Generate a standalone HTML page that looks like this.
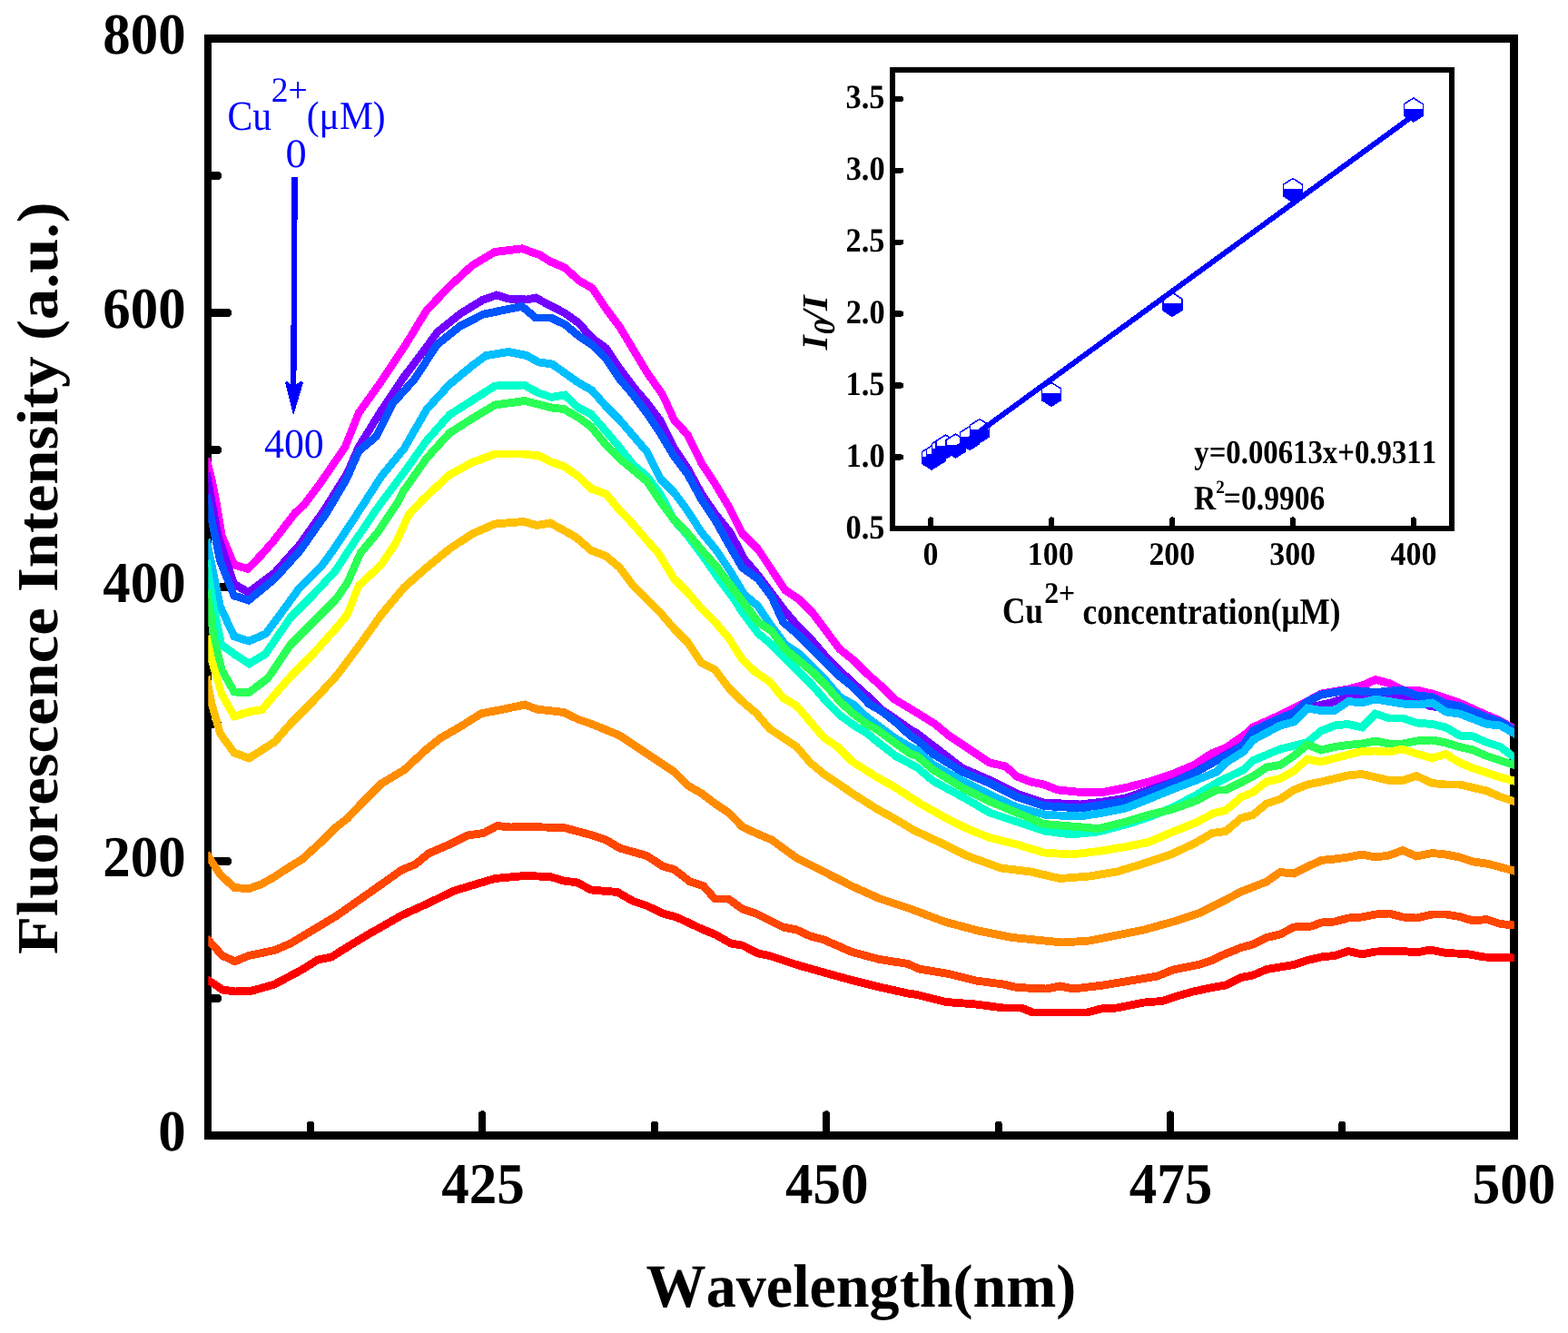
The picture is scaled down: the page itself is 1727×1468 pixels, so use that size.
<!DOCTYPE html>
<html lang="en"><head><meta charset="utf-8"><title>Fluorescence spectra</title>
<style>html,body{margin:0;padding:0;background:#fff;}svg{display:block;}text{font-family:"Liberation Serif","DejaVu Serif",serif;font-kerning:none;}</style>
</head><body>
<svg width="1727" height="1468" viewBox="0 0 1727 1468" shape-rendering="crispEdges" text-rendering="geometricPrecision">
<rect x="0" y="0" width="1727" height="1468" fill="#fff"/>
<defs><clipPath id="cp"><rect x="229.3" y="46" width="1438.6" height="1201"/></clipPath></defs>
<g stroke="#000" fill="none" stroke-linecap="round">
<line x1="229.05" y1="948.5" x2="250.6" y2="948.5" stroke-width="9"/>
<line x1="229.05" y1="646.5" x2="250.6" y2="646.5" stroke-width="9"/>
<line x1="229.05" y1="344.5" x2="250.6" y2="344.5" stroke-width="9"/>
<line x1="229.05" y1="1099.5" x2="239.7" y2="1099.5" stroke-width="9"/>
<line x1="229.05" y1="797.5" x2="239.7" y2="797.5" stroke-width="9"/>
<line x1="229.05" y1="495.5" x2="239.7" y2="495.5" stroke-width="9"/>
<line x1="229.05" y1="193.5" x2="239.7" y2="193.5" stroke-width="9"/>
<line x1="531.3" y1="1250.5" x2="531.3" y2="1227.4" stroke-width="8.2"/>
<line x1="910.3" y1="1250.5" x2="910.3" y2="1227.4" stroke-width="8.2"/>
<line x1="1289.0" y1="1250.5" x2="1289.0" y2="1227.4" stroke-width="8.2"/>
<line x1="342" y1="1250.5" x2="342" y2="1238.6" stroke-width="8.2"/>
<line x1="720.9" y1="1250.5" x2="720.9" y2="1238.6" stroke-width="8.2"/>
<line x1="1099.6" y1="1250.5" x2="1099.6" y2="1238.6" stroke-width="8.2"/>
<line x1="1478.3" y1="1250.5" x2="1478.3" y2="1238.6" stroke-width="8.2"/>
</g>
<g fill="#000">
<rect x="225.1" y="37.9" width="7.9" height="1217.1"/>
<rect x="1663.2" y="37.9" width="8.7" height="1217.1"/>
<rect x="225.1" y="37.9" width="1446.8000000000002" height="9"/>
<rect x="225.1" y="1246" width="1446.8000000000002" height="9"/>
</g>
<g clip-path="url(#cp)"><g transform="scale(1 1.05)" fill="none" stroke-width="8.45" stroke-linejoin="miter" stroke-miterlimit="4" stroke-linecap="butt">
<polyline stroke="#FF00FF" points="227.4,480.95 233.4,503.81 238.3,527.14 244.4,561.90 257.9,592.38 273.0,596.67 288.0,581.90 300.8,568.00 325.0,538.10 335.0,529.52 352.5,507.14 380.0,469.05 395.0,433.33 420.0,400.00 445.0,364.29 470.0,325.24 495.0,300.48 520.0,278.48 545.0,264.29 575.0,260.76 595.0,267.62 605.0,273.81 622.5,280.95 637.5,294.29 652.5,302.38 667.5,323.81 682.5,342.86 697.5,366.67 712.5,390.48 730.0,414.29 742.5,440.48 757.5,456.19 772.5,485.71 787.5,507.14 802.5,530.95 817.5,559.52 835.0,576.19 850.0,597.62 865.0,619.05 880.0,628.57 895.0,642.86 910.0,661.90 925.0,680.95 940.0,692.38 955.0,706.67 970.0,719.05 985.0,733.33 1010.0,747.62 1030.0,759.52 1045.0,771.43 1060.0,780.95 1075.0,790.48 1090.0,800.00 1107.5,803.81 1120.0,814.29 1135.0,820.00 1150.0,822.86 1165.0,828.57 1190.0,830.95 1215.0,830.95 1240.0,826.19 1265.0,820.00 1290.0,812.38 1315.0,802.38 1335.0,790.00 1350.0,784.29 1370.0,771.43 1380.0,762.86 1410.0,750.00 1440.0,735.71 1455.0,727.62 1485.0,722.86 1500.0,719.05 1515.0,712.86 1530.0,716.67 1545.0,723.81 1560.0,723.81 1577.5,727.62 1607.5,737.14 1637.5,750.00 1652.5,756.19 1667.5,764.29 1677.0,769.43"/>
<polyline stroke="#7300FF" points="227.4,496.19 240.1,561.90 257.7,612.38 273.8,621.43 302.5,600.76 330.0,571.43 355.0,538.10 382.0,497.14 395.0,469.05 420.0,430.48 445.0,395.24 470.0,363.62 482.0,348.10 507.0,329.05 532.0,314.38 547.0,309.52 560.0,313.33 580.0,314.29 590.0,312.38 605.0,320.00 622.5,328.57 637.5,338.95 652.5,354.86 667.5,365.24 682.5,386.67 697.5,405.71 712.5,422.38 727.5,441.43 742.5,470.00 757.5,491.43 772.5,517.62 787.5,538.57 805.0,559.52 820.0,586.67 835.0,603.33 850.0,622.38 865.0,641.43 880.0,658.10 895.0,672.38 910.0,689.05 925.0,703.33 940.0,716.67 955.0,729.52 970.0,743.81 985.0,753.33 1002.5,765.05 1010.0,769.14 1027.5,782.00 1060.0,805.71 1090.0,818.10 1120.0,832.38 1150.0,841.90 1190.0,843.81 1215.0,840.95 1240.0,837.14 1265.0,828.57 1290.0,820.95 1315.0,810.48 1340.0,797.14 1370.0,780.95 1380.0,769.52 1410.0,757.14 1440.0,742.86 1465.0,737.14 1485.0,731.43 1500.0,728.57 1515.0,729.52 1545.0,729.52 1560.0,733.33 1575.0,740.48 1607.5,744.76 1637.5,754.29 1667.5,766.67 1677.0,770.57"/>
<polyline stroke="#0055FF" points="227.4,519.05 242.5,588.57 257.7,624.76 273.8,629.52 302.5,607.05 330.0,578.10 360.0,537.52 382.0,501.90 395.0,473.33 415.0,457.14 432.0,423.81 457.0,397.14 470.0,378.10 482.0,360.95 507.0,341.90 532.0,329.81 557.0,324.76 575.0,321.43 590.0,333.33 607.0,333.33 622.5,340.48 637.5,352.38 652.5,361.90 667.5,376.19 682.5,397.62 697.5,414.29 712.5,433.33 727.5,454.76 742.5,478.57 757.5,497.62 772.5,523.81 787.5,545.24 803.5,572.38 817.5,595.24 835.0,607.14 850.0,626.19 862.5,652.38 880.0,666.67 895.0,680.95 910.0,695.24 925.0,709.52 940.0,720.95 957.0,738.10 970.0,745.24 985.0,756.19 1002.5,771.43 1010.0,776.19 1027.5,790.48 1060.0,809.52 1090.0,821.43 1120.0,835.71 1150.0,845.24 1190.0,847.62 1215.0,843.81 1240.0,840.48 1265.0,830.95 1292.0,820.95 1318.0,809.52 1340.0,797.62 1350.0,792.86 1370.0,780.95 1380.0,766.67 1410.0,753.33 1425.0,747.62 1440.0,735.71 1455.0,728.57 1485.0,723.81 1515.0,726.19 1545.0,723.81 1560.0,729.52 1577.5,730.95 1592.5,738.10 1607.5,740.48 1637.5,752.38 1652.5,757.14 1667.5,765.71 1677.0,771.14"/>
<polyline stroke="#00BFFF" points="227.4,565.71 236.8,609.52 242.6,636.19 257.9,667.62 274.4,672.38 292.5,664.86 302.5,652.38 330.0,616.38 355.0,592.76 370.0,572.86 395.0,536.67 420.0,499.62 445.0,470.57 470.0,429.24 495.0,403.33 520.0,383.62 535.0,373.05 560.0,369.05 580.0,372.86 593.5,380.00 608.0,381.90 622.5,391.43 635.0,400.00 652.0,409.52 667.5,426.19 682.5,440.48 697.5,457.14 712.5,473.81 727.5,502.38 742.5,516.67 757.0,535.24 772.5,558.10 789.0,577.14 805.0,600.00 820.0,623.81 835.0,635.71 850.0,657.14 865.0,676.19 880.0,685.71 895.0,700.00 910.0,714.29 925.0,730.95 940.0,739.05 955.0,752.38 967.0,760.95 985.0,773.81 1002.5,783.81 1010.0,786.67 1027.5,801.90 1060.0,819.05 1090.0,833.33 1120.0,846.67 1152.5,854.76 1190.0,856.19 1215.0,852.38 1240.0,847.62 1265.0,838.10 1292.0,827.62 1318.0,818.10 1340.0,809.52 1350.0,800.00 1370.0,788.10 1380.0,776.19 1410.0,760.95 1425.0,757.14 1440.0,742.86 1455.0,745.24 1470.0,745.24 1485.0,735.71 1500.0,737.14 1515.0,733.33 1530.0,735.71 1545.0,738.10 1562.5,739.05 1577.5,737.14 1592.5,746.67 1607.5,748.57 1637.5,759.52 1652.5,760.95 1667.5,769.05 1677.0,774.19"/>
<polyline stroke="#00FFCC" points="227.4,587.62 230.9,609.52 234.6,632.86 243.8,676.19 259.1,686.67 274.4,696.19 292.5,685.71 320.0,647.62 345.0,623.81 370.0,598.10 383.5,578.00 417.0,531.05 445.0,495.52 470.0,462.00 495.0,435.24 520.0,420.00 545.0,404.76 577.0,403.81 592.5,411.90 607.5,416.67 622.0,414.29 636.0,427.14 651.0,434.29 667.5,452.38 682.5,469.33 697.5,487.62 712.5,499.52 727.5,518.29 742.5,545.71 757.5,561.90 771.0,579.05 790.0,604.76 805.0,623.81 820.0,645.24 835.0,664.29 850.0,676.19 865.0,690.48 880.0,704.76 895.0,719.05 910.0,735.71 925.0,750.00 940.0,760.48 955.0,769.05 967.0,778.57 987.0,793.33 1010.0,804.76 1027.5,819.05 1060.0,835.71 1090.0,852.38 1120.0,861.90 1150.0,871.43 1180.0,875.24 1210.0,872.38 1240.0,864.76 1265.0,857.14 1290.0,847.62 1315.0,835.24 1342.0,820.00 1370.0,807.14 1380.0,797.62 1410.0,785.71 1440.0,778.57 1455.0,766.67 1470.0,760.95 1485.0,759.52 1500.0,762.86 1515.0,748.57 1530.0,753.33 1545.0,753.33 1560.0,758.10 1577.5,759.52 1592.5,762.86 1607.5,771.43 1622.5,772.38 1637.5,778.57 1652.5,783.33 1667.5,794.29 1677.0,801.24"/>
<polyline stroke="#2AFF55" points="227.4,619.05 232.2,644.76 235.2,667.62 244.4,702.86 257.9,725.71 274.4,726.29 295.0,711.43 320.0,676.19 345.0,652.38 370.0,628.57 382.5,611.43 397.0,580.00 417.0,557.14 437.0,528.57 445.0,514.29 470.0,480.48 495.0,454.29 520.0,439.05 545.0,424.76 578.0,420.48 594.0,424.29 607.5,427.62 621.0,429.05 637.5,438.10 651.0,447.62 667.5,466.67 682.5,480.95 697.5,492.86 712.5,504.76 727.5,526.19 742.5,545.24 757.5,559.52 773.5,577.62 790.0,595.24 805.0,614.29 820.0,633.33 835.0,652.38 850.0,661.90 865.0,680.95 880.0,692.86 895.0,704.76 910.0,719.05 925.0,735.71 940.0,748.57 955.0,759.52 967.0,765.71 985.0,778.57 1002.5,790.48 1010.0,792.86 1027.5,807.14 1060.0,826.19 1090.0,840.48 1120.0,852.38 1150.0,864.29 1180.0,866.67 1210.0,869.05 1240.0,861.90 1265.0,854.76 1292.0,848.57 1317.0,840.00 1340.0,828.57 1350.0,828.57 1370.0,819.05 1380.0,814.29 1395.0,804.76 1410.0,802.38 1425.0,792.86 1440.0,780.95 1455.0,786.67 1470.0,783.33 1485.0,781.43 1500.0,780.00 1515.0,777.14 1530.0,780.00 1545.0,780.00 1560.0,777.14 1577.5,776.19 1592.5,779.05 1607.5,783.33 1622.5,786.67 1637.5,792.86 1652.5,797.62 1667.5,802.38 1677.0,805.43"/>
<polyline stroke="#FFFF00" points="227.4,666.67 232.8,691.43 244.4,728.57 257.9,751.43 274.4,746.67 288.5,744.38 302.5,728.57 320.0,709.52 345.0,685.71 370.0,659.05 382.5,644.76 395.0,614.29 420.0,592.38 437.0,567.62 450.0,540.00 466.0,523.81 495.0,498.10 520.0,485.14 545.0,476.19 577.0,476.19 594.0,478.10 607.5,484.76 621.0,489.05 637.5,500.00 651.0,512.38 667.5,518.10 682.5,535.24 697.5,550.00 712.5,566.67 725.0,580.00 742.5,607.14 757.5,621.43 772.5,638.10 787.5,652.38 802.5,669.05 817.5,691.52 832.5,705.24 847.5,714.76 862.5,732.00 877.5,740.48 892.5,757.14 907.5,773.81 922.5,783.33 938.5,798.57 952.5,807.14 966.0,815.24 982.5,823.81 1012.0,841.90 1040.0,857.14 1065.0,869.05 1090.0,878.57 1120.0,885.71 1150.0,894.29 1180.0,896.19 1210.0,892.86 1240.0,888.10 1265.0,883.33 1292.0,872.38 1317.0,862.86 1337.0,852.86 1350.0,850.00 1367.0,836.19 1380.0,830.95 1395.0,820.00 1410.0,816.67 1425.0,808.57 1440.0,796.19 1455.0,799.05 1470.0,795.24 1485.0,791.43 1500.0,788.10 1515.0,787.62 1530.0,788.57 1545.0,785.71 1560.0,790.48 1577.5,795.24 1592.5,790.95 1607.5,800.00 1622.5,805.71 1637.5,810.48 1652.5,815.24 1667.5,819.05 1677.0,821.43"/>
<polyline stroke="#FFC000" points="227.4,709.52 233.1,738.10 242.6,769.52 257.9,789.52 274.4,795.24 302.5,778.10 320.0,759.05 345.0,735.24 370.0,709.52 395.0,678.10 420.0,644.76 445.0,616.19 470.0,595.24 495.0,575.71 520.0,560.00 545.0,549.52 577.0,547.14 591.0,550.95 606.0,548.57 622.5,557.14 634.0,563.33 651.0,577.14 667.5,583.33 682.5,595.24 697.5,614.29 712.5,628.57 727.5,642.86 742.5,659.52 757.5,673.81 772.5,695.24 787.5,702.38 802.5,721.43 817.5,735.71 832.5,747.62 847.5,764.29 862.5,773.81 877.5,783.33 892.5,800.00 907.5,811.90 922.5,821.43 938.5,831.90 952.5,840.48 966.0,848.57 982.5,857.14 1006.0,870.48 1040.0,885.71 1065.0,897.62 1102.5,910.48 1135.0,914.29 1167.5,921.43 1200.0,919.05 1230.0,914.29 1255.0,907.14 1290.0,896.19 1317.0,883.81 1335.0,873.81 1350.0,871.90 1367.0,858.10 1380.0,854.76 1395.0,842.86 1410.0,838.10 1425.0,828.57 1440.0,822.86 1455.0,820.00 1470.0,816.67 1485.0,813.33 1500.0,811.90 1515.0,815.24 1530.0,818.57 1545.0,818.57 1560.0,813.81 1577.5,821.43 1592.5,822.86 1607.5,822.86 1622.5,826.19 1637.5,829.52 1652.5,835.71 1667.5,840.48 1677.0,843.52"/>
<polyline stroke="#FF8C00" points="227.4,895.24 242.6,917.14 257.9,930.95 273.8,932.19 287.5,927.62 302.5,919.52 320.0,908.57 332.5,901.43 353.0,883.81 370.0,867.62 382.5,858.57 397.0,843.81 420.0,821.90 445.0,807.62 470.0,785.71 485.0,774.29 507.5,761.90 530.0,748.38 555.0,743.81 578.0,739.05 591.0,743.81 621.0,747.14 637.5,754.76 651.0,759.05 682.5,771.43 697.5,780.95 712.5,790.48 727.5,800.00 742.5,809.52 757.5,823.81 773.0,832.38 787.5,842.86 802.5,852.38 817.5,867.14 832.5,873.81 850.0,880.95 877.5,900.00 907.5,914.29 938.5,929.52 968.5,942.38 985.0,947.62 1006.0,954.29 1040.0,966.67 1077.5,976.19 1115.0,983.33 1140.0,985.71 1170.0,988.57 1200.0,986.67 1230.0,980.95 1260.0,975.24 1292.0,966.67 1320.0,958.10 1347.0,945.24 1367.0,935.24 1395.0,924.76 1410.0,914.76 1425.0,916.19 1440.0,909.05 1455.0,902.38 1470.0,900.95 1485.0,899.05 1500.0,896.19 1515.0,899.05 1530.0,897.14 1545.0,891.90 1560.0,898.10 1577.5,894.76 1592.5,896.19 1607.5,899.05 1622.5,903.81 1637.5,905.71 1652.5,909.52 1667.5,913.33 1677.0,915.71"/>
<polyline stroke="#FF4500" points="227.4,983.81 245.0,1002.38 258.8,1008.38 273.8,1002.38 302.5,996.67 320.0,989.52 345.0,975.24 370.0,960.95 395.0,944.29 420.0,927.62 442.5,912.38 457.5,906.48 472.5,894.86 495.0,885.71 515.0,876.19 532.5,873.81 547.5,866.19 562.5,867.62 578.0,867.14 621.0,868.10 651.0,875.71 667.5,880.95 682.5,889.52 712.5,897.62 730.0,908.57 742.5,911.90 760.0,924.76 775.0,929.52 787.5,942.86 802.5,942.86 817.5,953.33 832.5,958.10 862.5,972.38 877.5,975.24 892.5,981.90 907.5,985.71 938.5,998.57 968.5,1006.19 1000.0,1010.95 1012.0,1016.19 1045.0,1021.43 1075.0,1028.57 1105.0,1032.38 1120.0,1035.71 1152.5,1037.14 1167.5,1034.29 1182.5,1037.14 1215.0,1033.33 1245.0,1028.57 1275.0,1023.81 1292.0,1017.14 1320.0,1011.90 1335.0,1007.14 1345.0,1002.38 1367.0,993.81 1380.0,990.48 1395.0,983.33 1410.0,980.00 1425.0,972.38 1445.0,971.43 1455.0,967.62 1470.0,966.67 1485.0,962.86 1500.0,961.90 1515.0,959.05 1530.0,958.10 1545.0,961.90 1560.0,962.86 1577.5,959.05 1592.5,959.05 1607.5,961.43 1622.5,965.71 1637.5,964.29 1652.5,969.05 1667.5,970.48 1677.0,971.43"/>
<polyline stroke="#FF0000" points="227.4,1026.67 245.0,1038.10 258.8,1040.00 277.5,1039.14 302.5,1032.38 332.5,1017.14 350.0,1006.67 365.0,1003.81 382.5,993.33 407.5,979.05 442.5,960.00 470.0,948.10 500.0,934.29 545.0,921.43 578.0,918.57 606.0,919.52 621.0,923.81 636.0,925.71 651.0,933.33 680.0,935.71 697.5,945.24 712.5,950.00 730.0,958.10 745.0,961.90 775.0,975.24 787.5,980.00 805.0,989.52 817.5,991.43 835.0,1000.00 847.5,1002.38 877.5,1011.90 907.5,1020.00 938.5,1028.10 968.5,1035.24 1000.0,1041.90 1010.0,1043.33 1042.0,1050.95 1075.0,1053.33 1105.0,1057.14 1125.0,1057.14 1137.5,1061.90 1197.5,1061.90 1212.5,1058.10 1230.0,1057.14 1260.0,1051.43 1280.0,1050.00 1295.0,1045.24 1312.0,1040.48 1335.0,1035.71 1350.0,1033.33 1367.0,1025.24 1380.0,1022.86 1395.0,1016.67 1410.0,1014.29 1425.0,1011.90 1440.0,1007.14 1455.0,1003.81 1470.0,1002.38 1485.0,997.62 1500.0,1000.95 1515.0,998.10 1545.0,997.62 1560.0,999.05 1575.0,996.19 1592.5,999.52 1615.0,1000.48 1635.0,1003.81 1667.5,1004.76 1677.0,1005.05"/>
</g></g>
<g fill="#000">
<text font-weight="bold" font-size="63.85" transform="translate(113.35 59.30) scale(0.9520 1)">800</text>
<text font-weight="bold" font-size="63.85" transform="translate(113.35 361.26) scale(0.9520 1)">600</text>
<text font-weight="bold" font-size="63.85" transform="translate(113.35 663.20) scale(0.9520 1)">400</text>
<text font-weight="bold" font-size="63.85" transform="translate(113.35 965.20) scale(0.9520 1)">200</text>
<text font-weight="bold" font-size="63.85" transform="translate(174.14 1267.10) scale(0.9520 1)">0</text>
<text font-weight="bold" font-size="63.70" transform="translate(486.34 1325.40) scale(0.9580 1)">425</text>
<text font-weight="bold" font-size="63.70" transform="translate(865.09 1325.40) scale(0.9580 1)">450</text>
<text font-weight="bold" font-size="63.70" transform="translate(1243.74 1325.40) scale(0.9580 1)">475</text>
<text font-weight="bold" font-size="63.70" transform="translate(1621.73 1325.40) scale(0.9580 1)">500</text>
<text font-weight="bold" font-size="67.43" transform="translate(711.61 1438.57) scale(0.9804 1)">Wavelength(nm)</text>
<text font-weight="bold" font-size="64.07" transform="translate(62.83 1050.93) rotate(-90) scale(1.0730 1)">Fluorescence Intensity (a.u.)</text>
</g>
<g fill="#0000FF">
<text font-size="46.12" transform="translate(250.53 142.74) scale(0.9044 1)">Cu</text>
<text font-size="38.94" transform="translate(298.81 111.90) scale(0.9663 1)">2+</text>
<text font-size="43.87" transform="translate(337.73 142.17) scale(0.9482 1)">(μM)</text>
<text font-size="44.89" transform="translate(314.54 184.15) scale(1.0343 1)">0</text>
<text font-size="45.78" transform="translate(291.02 504.44) scale(0.9572 1)">400</text>
<path d="M321.5,194.5 L327.8,194.5 L326.4,428 L320.1,428 Z"/>
<path d="M314.1,421.3 L316.3,419.8 L320.2,423.2 L326.1,423.2 L331.6,419.8 L334,421.3 L323.6,456.2 L322.7,456.2 Z"/>
</g>
<g stroke="#000" fill="none" stroke-linecap="round" stroke-width="6.2">
<line x1="983.1" y1="503.4" x2="992.1" y2="503.4"/>
<line x1="983.1" y1="424.5" x2="992.1" y2="424.5"/>
<line x1="983.1" y1="345.5" x2="992.1" y2="345.5"/>
<line x1="983.1" y1="266.6" x2="992.1" y2="266.6"/>
<line x1="983.1" y1="187.6" x2="992.1" y2="187.6"/>
<line x1="983.1" y1="108.7" x2="992.1" y2="108.7"/>
<line x1="1025.3" y1="582.05" x2="1025.3" y2="572.3" stroke-width="5.8"/>
<line x1="1158.2" y1="582.05" x2="1158.2" y2="572.3" stroke-width="5.8"/>
<line x1="1291.1" y1="582.05" x2="1291.1" y2="572.3" stroke-width="5.8"/>
<line x1="1423.9" y1="582.05" x2="1423.9" y2="572.3" stroke-width="5.8"/>
<line x1="1556.8" y1="582.05" x2="1556.8" y2="572.3" stroke-width="5.8"/>
</g>
<rect x="983.1" y="77.05" width="616.1" height="504.99999999999994" fill="none" stroke="#000" stroke-width="5.9"/>
<g stroke="#0000FF" stroke-width="1.6">
<path fill="#fff" d="M1026,491.0 L1036.5,497.7 L1036.5,510.3 L1026,517.0 L1015.5,510.3 L1015.5,497.7 Z"/>
<path fill="#0000FF" d="M1015.5,503.7 L1036.5,503.7 L1036.5,510.3 L1026,517.0 L1015.5,510.3 Z"/>
<path fill="#fff" d="M1031,488.0 L1041.5,494.7 L1041.5,507.3 L1031,514.0 L1020.5,507.3 L1020.5,494.7 Z"/>
<path fill="#0000FF" d="M1020.5,500.7 L1041.5,500.7 L1041.5,507.3 L1031,514.0 L1020.5,507.3 Z"/>
<path fill="#fff" d="M1037,482.0 L1047.5,488.7 L1047.5,501.3 L1037,508.0 L1026.5,501.3 L1026.5,488.7 Z"/>
<path fill="#0000FF" d="M1026.5,494.7 L1047.5,494.7 L1047.5,501.3 L1037,508.0 L1026.5,501.3 Z"/>
<path fill="#fff" d="M1041.5,479.0 L1052.0,485.7 L1052.0,498.3 L1041.5,505.0 L1031.0,498.3 L1031.0,485.7 Z"/>
<path fill="#0000FF" d="M1031.0,491.7 L1052.0,491.7 L1052.0,498.3 L1041.5,505.0 L1031.0,498.3 Z"/>
<path fill="#fff" d="M1052.5,478.0 L1063.0,484.7 L1063.0,497.3 L1052.5,504.0 L1042.0,497.3 L1042.0,484.7 Z"/>
<path fill="#0000FF" d="M1042.0,490.7 L1063.0,490.7 L1063.0,497.3 L1052.5,504.0 L1042.0,497.3 Z"/>
<path fill="#fff" d="M1068,469.5 L1078.5,476.2 L1078.5,488.8 L1068,495.5 L1057.5,488.8 L1057.5,476.2 Z"/>
<path fill="#0000FF" d="M1057.5,482.2 L1078.5,482.2 L1078.5,488.8 L1068,495.5 L1057.5,488.8 Z"/>
<path fill="#fff" d="M1079,461.5 L1089.5,468.2 L1089.5,480.8 L1079,487.5 L1068.5,480.8 L1068.5,468.2 Z"/>
<path fill="#0000FF" d="M1068.5,474.2 L1089.5,474.2 L1089.5,480.8 L1079,487.5 L1068.5,480.8 Z"/>
<path fill="#fff" d="M1158,421.3 L1168.5,428.0 L1168.5,440.6 L1158,447.3 L1147.5,440.6 L1147.5,428.0 Z"/>
<path fill="#0000FF" d="M1147.5,434.0 L1168.5,434.0 L1168.5,440.6 L1158,447.3 L1147.5,440.6 Z"/>
<path fill="#fff" d="M1291.2,322.3 L1301.7,329.0 L1301.7,341.6 L1291.2,348.3 L1280.7,341.6 L1280.7,329.0 Z"/>
<path fill="#0000FF" d="M1280.7,335.0 L1301.7,335.0 L1301.7,341.6 L1291.2,348.3 L1280.7,341.6 Z"/>
<path fill="#fff" d="M1424,196.5 L1434.5,203.2 L1434.5,215.8 L1424,222.5 L1413.5,215.8 L1413.5,203.2 Z"/>
<path fill="#0000FF" d="M1413.5,209.2 L1434.5,209.2 L1434.5,215.8 L1424,222.5 L1413.5,215.8 Z"/>
<path fill="#fff" d="M1556.8,108.0 L1567.3,114.7 L1567.3,127.3 L1556.8,134.0 L1546.3,127.3 L1546.3,114.7 Z"/>
<path fill="#0000FF" d="M1546.3,120.7 L1567.3,120.7 L1567.3,127.3 L1556.8,134.0 L1546.3,127.3 Z"/>
</g>
<line x1="1025.3" y1="514.3" x2="1556.8" y2="127.2" stroke="#0000FF" stroke-width="6"/>
<g fill="#000">
<text font-weight="bold" font-size="37.30" transform="translate(931.51 592.70) scale(0.9200 1)">0.5</text>
<text font-weight="bold" font-size="37.30" transform="translate(931.68 513.75) scale(0.9200 1)">1.0</text>
<text font-weight="bold" font-size="37.30" transform="translate(931.51 434.80) scale(0.9200 1)">1.5</text>
<text font-weight="bold" font-size="37.30" transform="translate(931.68 355.85) scale(0.9200 1)">2.0</text>
<text font-weight="bold" font-size="37.30" transform="translate(931.51 276.90) scale(0.9200 1)">2.5</text>
<text font-weight="bold" font-size="37.30" transform="translate(931.68 197.95) scale(0.9200 1)">3.0</text>
<text font-weight="bold" font-size="37.30" transform="translate(931.51 119.00) scale(0.9200 1)">3.5</text>
<text font-weight="bold" font-size="36.00" transform="translate(1016.54 622.10) scale(0.9400 1)">0</text>
<text font-weight="bold" font-size="36.00" transform="translate(1131.82 622.10) scale(0.9400 1)">100</text>
<text font-weight="bold" font-size="36.00" transform="translate(1265.38 622.10) scale(0.9400 1)">200</text>
<text font-weight="bold" font-size="36.00" transform="translate(1398.26 622.10) scale(0.9400 1)">300</text>
<text font-weight="bold" font-size="36.00" transform="translate(1531.56 622.10) scale(0.9400 1)">400</text>
<text font-weight="bold" font-size="36.59" transform="translate(1315.27 509.93) scale(0.8960 1)">y=0.00613x+0.9311</text>
<text font-weight="bold" font-size="37.86" transform="translate(1315.10 560.80) scale(0.8865 1)">R</text>
<text font-weight="bold" font-size="20.45" transform="translate(1339.14 542.60) scale(0.9307 1)">2</text>
<text font-weight="bold" font-size="37.65" transform="translate(1347.82 560.74) scale(0.8928 1)">=0.9906</text>
<text font-weight="bold" font-size="40.75" transform="translate(1103.94 686.49) scale(0.8631 1)">Cu</text>
<text font-weight="bold" font-size="32.73" transform="translate(1150.13 664.30) scale(0.9728 1)">2+</text>
<text font-weight="bold" font-size="40.88" transform="translate(1192.57 687.41) scale(0.8611 1)">concentration(μM)</text>
<text font-weight="bold" font-style="italic" font-size="40.46" transform="translate(911.20 385.29) rotate(-90) scale(1.0119 1)">I</text>
<text font-weight="bold" font-style="italic" font-size="33.04" transform="translate(918.67 368.36) rotate(-90) scale(0.9999 1)">0</text>
<text font-weight="bold" font-style="italic" font-size="39.85" transform="translate(911.00 353.74) rotate(-90) scale(1.0702 1)">/I</text>
</g>
</svg></body></html>
